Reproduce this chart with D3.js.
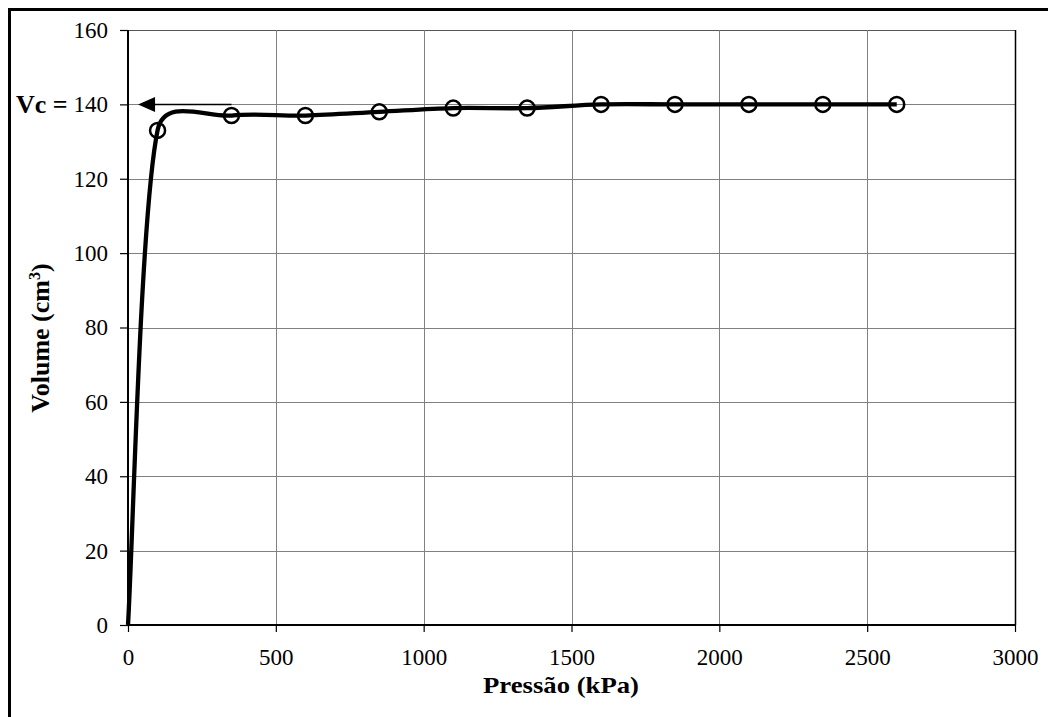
<!DOCTYPE html>
<html>
<head>
<meta charset="utf-8">
<script src="https://cdn.jsdelivr.net/npm/d3@7"></script>
<style>
  html, body { margin: 0; padding: 0; background: #fff; }
  svg { display: block; }
  text { font-family: "Liberation Serif", "Times New Roman", serif; }
</style>
</head>
<body>
<svg id="chart" width="1048" height="717"></svg>
<script>
// ---- data ----
const pressure = [0, 100, 350, 600, 850, 1100, 1350, 1600, 1850, 2100, 2350, 2600];
const volume   = [0, 133, 137, 137, 138, 139, 139, 140, 140, 140, 140, 140];
const xTicks = [0, 500, 1000, 1500, 2000, 2500, 3000];
const yTicks = [0, 20, 40, 60, 80, 100, 120, 140, 160];
const vcValue = 140;
const arrowFrom = 350, arrowTo = 34;
const xTitle = "Pressão (kPa)";
const yTitle = "Volume (cm";
const vcLabel = "Vc =";

// ---- layout ----
const svg = d3.select("#chart");
const x = d3.scaleLinear().domain([0, 3000]).range([128, 1015]);
const y = d3.scaleLinear().domain([0, 160]).range([625, 30]);

// Excel-like smoothing curve (Bezier with Catmull-Rom tangents, handle length limited)
function smoothCurve(context) {
  let pts = [];
  return {
    areaStart() {}, areaEnd() {},
    lineStart() { pts = []; },
    point(px, py) { pts.push([px, py]); },
    lineEnd() {
      const n = pts.length;
      if (!n) return;
      context.moveTo(pts[0][0], pts[0][1]);
      const tan = pts.map((p, i) => {
        const a = pts[Math.max(0, i - 1)], b = pts[Math.min(n - 1, i + 1)];
        return [(b[0] - a[0]) / 6, (b[1] - a[1]) / 6];
      });
      const lim = (v, segLen) => {
        const L = Math.hypot(v[0], v[1]);
        const maxL = 0.46 * segLen;
        return L > maxL ? [v[0] * maxL / L, v[1] * maxL / L] : v;
      };
      for (let i = 0; i < n - 1; i++) {
        const p = pts[i], q = pts[i + 1];
        const seg = Math.hypot(q[0] - p[0], q[1] - p[1]);
        const t1 = lim(tan[i], seg), t2 = lim(tan[i + 1], seg);
        context.bezierCurveTo(p[0] + t1[0], p[1] + t1[1], q[0] - t2[0], q[1] - t2[1], q[0], q[1]);
      }
    }
  };
}

// outer frame
svg.append("rect").attr("x", 9.5).attr("y", 9.5).attr("width", 1200).attr("height", 900)
  .attr("fill", "none").attr("stroke", "#000").attr("stroke-width", 3);

// grid
const grid = svg.append("g");
grid.selectAll("line.h").data(yTicks.filter(d => d > 0)).join("line")
  .attr("x1", x(0)).attr("x2", x(3000))
  .attr("y1", d => Math.round(y(d)) + 0.5).attr("y2", d => Math.round(y(d)) + 0.5)
  .attr("stroke", d => d === 160 ? "#555" : "#808080").attr("stroke-width", 1);
grid.selectAll("line.v").data(xTicks.filter(d => d > 0)).join("line")
  .attr("y1", y(0)).attr("y2", y(160))
  .attr("x1", d => Math.round(x(d)) + 0.5).attr("x2", d => Math.round(x(d)) + 0.5)
  .attr("stroke", d => d === 3000 ? "#000" : "#808080").attr("stroke-width", d => d === 3000 ? 1.5 : 1);

// axes
const xAxis = d3.axisBottom(x).tickValues(xTicks).tickSize(7).tickPadding(17).tickFormat(d3.format("d"));
const yAxis = d3.axisLeft(y).tickValues(yTicks).tickSize(8).tickPadding(12).tickFormat(d3.format("d"));
const gx = svg.append("g").attr("transform", `translate(0,${y(0)})`).call(xAxis);
const gy = svg.append("g").attr("transform", `translate(${x(0)},0)`).call(yAxis);
[gx, gy].forEach(g => {
  g.select(".domain").attr("stroke", "#000").attr("stroke-width", 2);
  g.selectAll(".tick line").attr("stroke", "#000").attr("stroke-width", 1.2);
  g.selectAll(".tick text").attr("font-family", "Liberation Serif").attr("font-size", 23).attr("fill", "#000");
});
gx.select(".domain").attr("d", `M${x(0)},0H${x(3000)}`);
gy.select(".domain").attr("d", `M0,${y(0)}V${y(160)}`);

// arrow at Vc
svg.append("line")
  .attr("x1", x(arrowFrom)).attr("x2", x(arrowTo) + 10)
  .attr("y1", Math.round(y(vcValue)) + 0.5).attr("y2", Math.round(y(vcValue)) + 0.5)
  .attr("stroke", "#000").attr("stroke-width", 1.3);
const tipX = x(arrowTo), tipY = Math.round(y(vcValue)) + 0.5;
svg.append("path")
  .attr("d", `M${tipX},${tipY}L${tipX + 17},${tipY - 7.5}L${tipX + 17},${tipY + 7.5}Z`)
  .attr("fill", "#000");

// curve
const pts = pressure.map((p, i) => [p, volume[i]]);
const line = d3.line().x(d => x(d[0])).y(d => y(d[1])).curve(smoothCurve);
svg.append("path").attr("d", line(pts))
  .attr("fill", "none").attr("stroke", "#000").attr("stroke-width", 4.3)
  .attr("stroke-linejoin", "round");

// markers
svg.append("g").selectAll("circle").data(pts.slice(1)).join("circle")
  .attr("cx", d => x(d[0])).attr("cy", d => y(d[1])).attr("r", 7.5)
  .attr("fill", "none").attr("stroke", "#000").attr("stroke-width", 2.5);

// Vc label
svg.append("text").attr("x", 16).attr("y", y(vcValue) + 9)
  .attr("font-size", 26).attr("font-weight", "bold").text(vcLabel);

// axis titles
svg.append("text").attr("x", 561).attr("y", 693).attr("text-anchor", "middle")
  .attr("font-size", 24).attr("font-weight", "bold")
  .attr("textLength", 156).attr("lengthAdjust", "spacingAndGlyphs").text(xTitle);
const yt = svg.append("text").attr("transform", `translate(49,338) rotate(-90)`)
  .attr("text-anchor", "middle").attr("font-size", 26).attr("font-weight", "bold");
yt.append("tspan").text(yTitle);
yt.append("tspan").attr("dy", -9).attr("font-size", 16).text("3");
yt.append("tspan").attr("dy", 9).text(")");
</script>
</body>
</html>
